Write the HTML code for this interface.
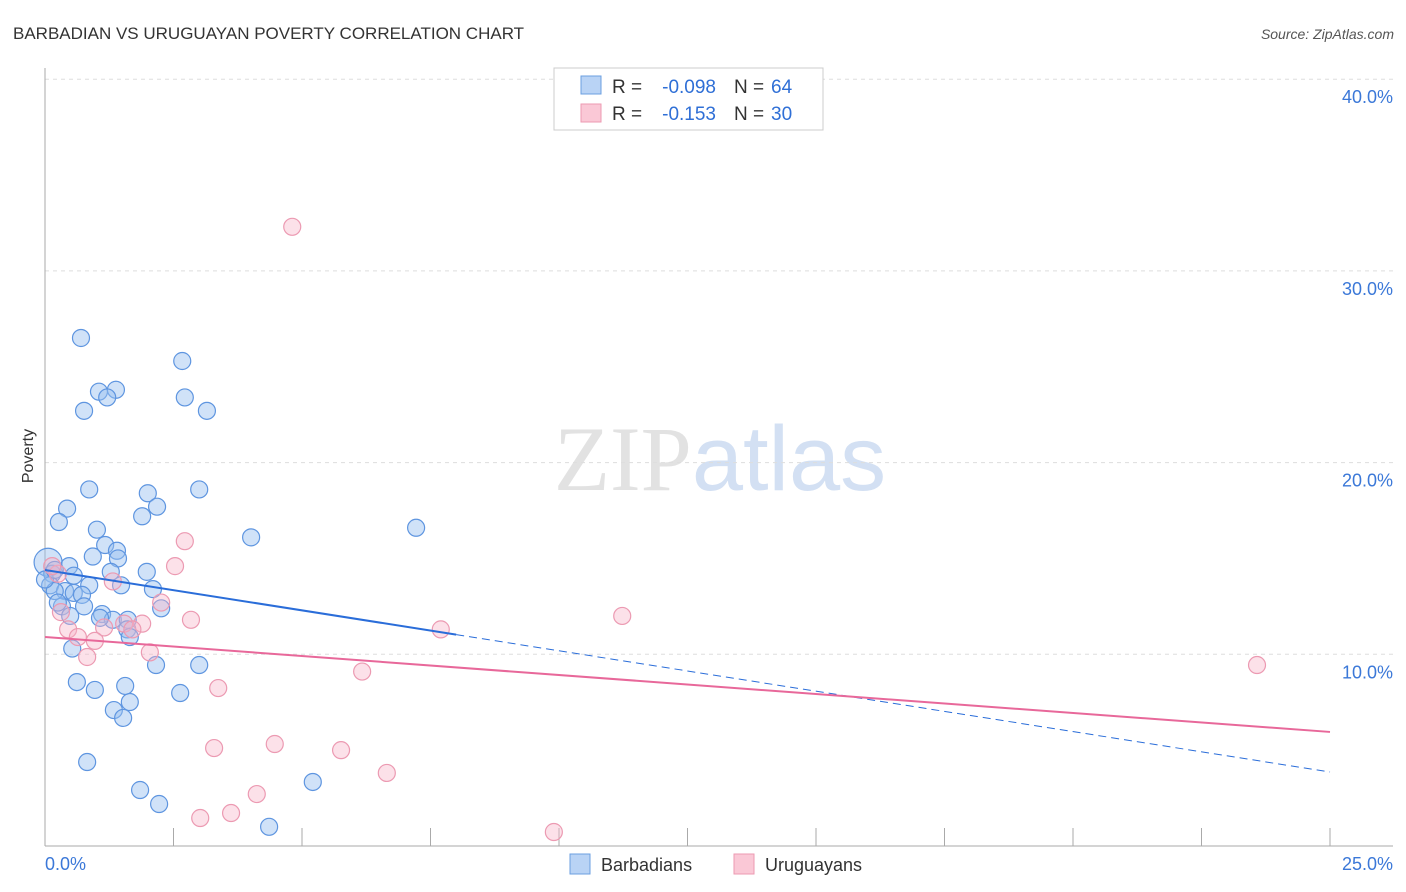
<!DOCTYPE html>
<html><head><meta charset="utf-8"><style>
body{margin:0;background:#fff;font-family:"Liberation Sans",sans-serif}
</style></head><body>
<svg id="c" width="1406" height="892" xmlns="http://www.w3.org/2000/svg" style="display:block">
<text x="13" y="39" font-size="17" fill="#333">BARBADIAN VS URUGUAYAN POVERTY CORRELATION CHART</text>
<text x="1394" y="39" font-size="14" fill="#555" text-anchor="end" font-style="italic">Source: ZipAtlas.com</text>
<text x="33" y="456" font-size="16" fill="#333" text-anchor="middle" transform="rotate(-90 33 456)">Poverty</text>
<text x="720" y="490" font-size="92" text-anchor="middle" font-family="Liberation Serif" fill="#e2e2e2">ZIP<tspan fill="#d3e0f3" font-family="Liberation Sans">atlas</tspan></text>
<g id="grid"></g><g id="axes"></g><g id="pts"></g><g id="lines"></g>
<g>
<rect x="554" y="68" width="269" height="62" fill="#fff" stroke="#ccc"/>
<rect x="581" y="76" width="20" height="18" fill="#b9d3f5" stroke="#6b9fe0"/>
<rect x="581" y="104" width="20" height="18" fill="#fac8d6" stroke="#ec9ab2"/>
<text x="612" y="93" font-size="19" fill="#333">R =</text>
<text x="716" y="93" font-size="19" fill="#2f6fd6" text-anchor="end">-0.098</text>
<text x="734" y="93" font-size="19" fill="#333">N =</text>
<text x="771" y="93" font-size="19" fill="#2f6fd6">64</text>
<text x="612" y="120" font-size="19" fill="#333">R =</text>
<text x="716" y="120" font-size="19" fill="#2f6fd6" text-anchor="end">-0.153</text>
<text x="734" y="120" font-size="19" fill="#333">N =</text>
<text x="771" y="120" font-size="19" fill="#2f6fd6">30</text>
</g>
<g>
<rect x="570" y="854" width="20" height="20" fill="#b9d3f5" stroke="#6b9fe0"/>
<text x="601" y="871" font-size="18" fill="#333">Barbadians</text>
<rect x="734" y="854" width="20" height="20" fill="#fac8d6" stroke="#ec9ab2"/>
<text x="765" y="871" font-size="18" fill="#333">Uruguayans</text>
</g>
</svg>
<script>
const blueX=[0.7,2.67,1.05,1.38,1.21,2.72,0.76,3.15,0.86,2.0,3.0,0.43,2.18,0.27,1.89,1.01,4.01,7.22,1.17,1.4,0.93,1.42,0.06,0.47,1.28,1.98,0.14,0.56,0.1,0.86,1.48,2.1,0.39,0.56,0.72,0.33,0.76,1.11,2.26,1.32,1.61,1.6,0.53,2.16,3.0,0.62,0.97,1.56,2.63,1.65,1.34,1.52,0.82,5.21,1.85,2.22,4.36,0.19,0.25,1.07,0.0,0.19,0.49,1.65];
const blueY=[26.5,25.3,23.7,23.8,23.4,23.4,22.7,22.7,18.6,18.4,18.6,17.6,17.7,16.9,17.2,16.5,16.1,16.6,15.7,15.4,15.1,15.0,14.8,14.6,14.3,14.3,14.2,14.1,13.6,13.6,13.6,13.4,13.3,13.2,13.1,12.5,12.5,12.1,12.4,11.8,11.8,11.3,10.3,9.44,9.44,8.55,8.14,8.35,7.98,7.51,7.09,6.68,4.38,3.34,2.92,2.19,1.0,13.3,12.7,11.9,13.9,14.4,12.0,10.9];
const pinkX=[4.81,2.72,2.53,1.32,0.25,0.14,2.26,2.84,1.89,1.54,1.15,1.7,7.7,11.23,0.45,0.64,0.97,0.31,2.04,0.82,6.17,3.37,23.58,3.29,4.47,5.76,6.65,4.12,3.62,3.02,9.9];
const pinkY=[32.3,15.9,14.6,13.8,14.2,14.6,12.7,11.8,11.6,11.6,11.4,11.3,11.3,12.0,11.3,10.9,10.7,12.2,10.1,9.86,9.1,8.24,9.44,5.11,5.32,5.0,3.81,2.71,1.72,1.46,0.73];
const yTicks=[10,20,30,40];
const xTickLabels=["0.0%","25.0%"];
const blueLine=[14.4,3.86], blueSolidEnd=8.0;
const pinkLine=[10.9,5.95];
const X=v=>45+v*51.4, Y=v=>846-v*19.17;
const NS="http://www.w3.org/2000/svg";
function mk(t,a,p){const e=document.createElementNS(NS,t);for(const k in a)e.setAttribute(k,a[k]);p.appendChild(e);return e;}
const grid=document.getElementById('grid'),axes=document.getElementById('axes');
yTicks.forEach(t=>{
 const l=mk('line',{x1:45,x2:1393,y1:Y(t),y2:Y(t),stroke:'#ddd','stroke-dasharray':'4 4'},grid);
 
 
 const tx=mk('text',{x:1393,y:Y(t)+24,'font-size':18,fill:'#3b78d8','text-anchor':'end'},axes);
 tx.textContent=t.toFixed(1)+'%';
 
 
});
const ax=mk('line',{x1:45,x2:45,y1:68,y2:846,stroke:'#aaa'},axes);


const bx=mk('line',{x1:45,x2:1393,y1:846,y2:846,stroke:'#aaa'},axes);


for(let i=0;i<=10;i++){const t=mk('line',{x1:X(i*2.5),x2:X(i*2.5),y1:828,y2:846,stroke:'#aaa'},axes);
 
 }
[[0,'start',45],[25,'end',1393]].forEach((d,i)=>{const t=mk('text',{x:d[2],y:870,'font-size':18,fill:'#3b78d8','text-anchor':d[1]},axes);
 t.textContent=xTickLabels[i];
 
 });
const pts=document.getElementById('pts');
blueX.forEach((x,i)=>{const c=mk('circle',{cx:X(x),cy:Y(blueY[i]),r:i==22?14:8.5,fill:'rgba(150,190,240,0.45)',stroke:'#5e95e0','stroke-width':1.2},pts);
 
 });
pinkX.forEach((x,i)=>{const c=mk('circle',{cx:X(x),cy:Y(pinkY[i]),r:8.5,fill:'rgba(248,180,200,0.4)',stroke:'#ec9ab2','stroke-width':1.2},pts);
 
 });
const lines=document.getElementById('lines');
const by=x=>blueLine[0]+(blueLine[1]-blueLine[0])*x/25;
let l1=mk('line',{x1:X(0),y1:Y(by(0)),x2:X(blueSolidEnd),y2:Y(by(blueSolidEnd)),stroke:'#2a6dd9','stroke-width':2},lines);


let l2=mk('line',{x1:X(blueSolidEnd),y1:Y(by(blueSolidEnd)),x2:X(25),y2:Y(by(25)),stroke:'#2a6dd9','stroke-width':1,'stroke-dasharray':'8 5'},lines);


let l3=mk('line',{x1:X(0),y1:Y(pinkLine[0]),x2:X(25),y2:Y(pinkLine[1]),stroke:'#e8689a','stroke-width':2},lines);


</script>
</body></html>
